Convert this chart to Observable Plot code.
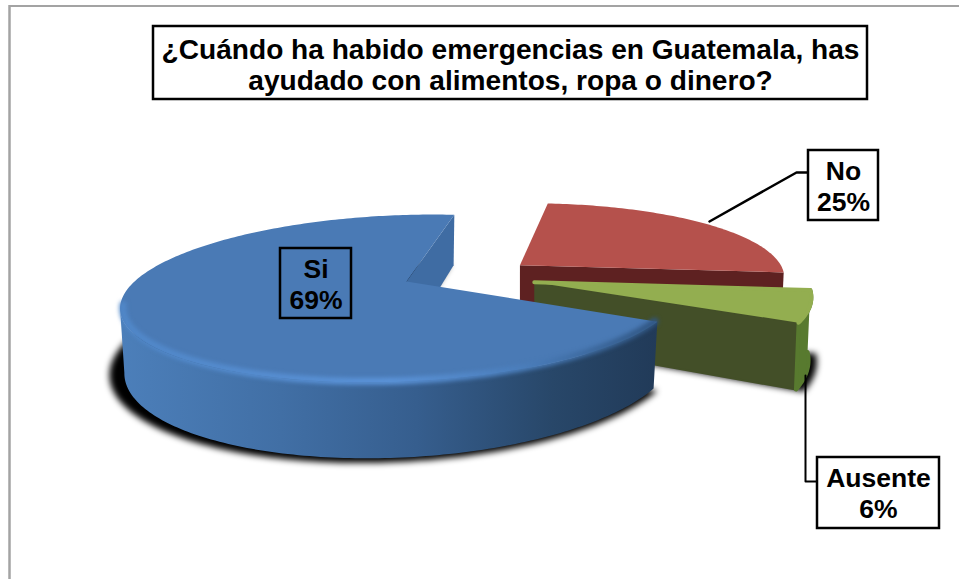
<!DOCTYPE html>
<html><head><meta charset="utf-8">
<script src="https://cdn.jsdelivr.net/npm/d3@7"></script>
<script src="https://cdn.jsdelivr.net/npm/@observablehq/plot@0.6"></script>
<style>html,body{margin:0;padding:0;background:#fff}svg{display:block}</style>
</head><body><div id="chart"></div>
<script>
const categories = ["Si", "No", "Ausente"];
const shares = [69, 25, 6];
const titleText = "¿Cuándo ha habido emergencias en Guatemala, has\nayudado con alimentos, ropa o dinero?";

// view of the tilted disc: world unit circle -> picture
const view = {x0: 406, y0: 281, R: 272, S: 80.5, p: 0.202, skew: -32, depth: 60.6};
const startAngle = 117;            // clockwise from the top, where the first slice starts
const explode = [[0, 0], [0.41, -0.21], [0.47, 0.01]];
const shrink = [0.985, 0.99, 0.99];

function project(X, Y) {
  const w = 1 - view.p * Y;
  return {x: view.x0 + (view.R * X + view.skew * Y) / w, y: view.y0 + view.S * Y / w, w};
}
const total = d3.sum(shares);
const bounds = [];
{ let a = startAngle;
  shares.forEach(s => { bounds.push([a, a + s / total * 360]); a += s / total * 360; }); }

const apex = i => project(explode[i][0], explode[i][1]);
// h = 0: top of the slab, h = 1: bottom of the slab; grow scales about the slice's apex
function at(i, deg, radius, h = 0, grow = 1) {
  const t = deg * Math.PI / 180, c = apex(i);
  const p = project(explode[i][0] + radius * Math.sin(t), explode[i][1] - radius * Math.cos(t));
  const k = (h ? shrink[i] : 1) * grow;
  return {x: c.x + (p.x - c.x) * k, y: c.y + (p.y - c.y) * grow + (h ? view.depth * h / p.w : 0)};
}
function arc(i, h = 0, grow = 1, from = bounds[i][0], to = bounds[i][1]) {
  const n = Math.max(4, Math.round(Math.abs(to - from)));
  return d3.range(n + 1).map(j => at(i, from + (to - from) * j / n, 1, h, grow));
}
const topFace = i => [at(i, 0, 0), ...arc(i)];
const bottomFace = (i, grow = 1) => [at(i, 0, 0, 1, grow), ...arc(i, 1, grow)];
const outerWall = (i, from, to) => [...arc(i, 0, 1, from, to), ...arc(i, 1, 1, from, to).reverse()];
const radialWall = (i, angle) => [at(i, 0, 0), at(i, angle, 1), at(i, angle, 1, 1), at(i, 0, 0, 1)];
const poly = (pts, o) => Plot.line(pts, {x: "x", y: "y", stroke: "none", ...o});

const [b0, b1] = bounds[0], [r0, r1] = bounds[1], [g0, g1] = bounds[2];
// the blue wall ends where the top rim turns back: its leftmost point
const blueArc = d3.range(b0, b1);
const silhouette = d3.least(blueArc, d => at(0, d, 1).x);

const shadowBlue = bottomFace(0, 1.035).map(d => ({x: d.x - 5, y: d.y + 1}));
const shadowGreen = bottomFace(2, 1.03).map(d => ({x: d.x, y: d.y + 1}));

const frame = (x1, x2, y1, y2, fill = "white") => Plot.rect([0], {x1: () => x1, x2: () => x2, y1: () => y1, y2: () => y2,
  fill, stroke: "black", strokeWidth: 2.5});
const label = i => `${categories[i]}\n${shares[i]}%`;
const text = (s, x, y, size, lh) => Plot.text([s], {x: () => x, y: () => y, text: d => d, fontSize: size,
  fontWeight: "bold", lineHeight: lh, fill: "black", textAnchor: "middle", lineAnchor: "middle"});

const chart = Plot.plot({
  width: 959, height: 579,
  marginTop: 0, marginRight: 0, marginBottom: 0, marginLeft: 0,
  x: {domain: [0, 959], range: [0, 959], axis: null},
  y: {domain: [0, 579], range: [0, 579], axis: null},
  style: {fontFamily: "'Liberation Sans', Arial, sans-serif", background: "#fff", overflow: "visible"},
  marks: [
    Plot.ruleX([9], {y1: 5, y2: 579, stroke: "#a3a3a3", strokeWidth: 2.5}),
    Plot.ruleY([5.5], {x1: 9, x2: 959, stroke: "#a3a3a3", strokeWidth: 2}),

    // No
    poly(radialWall(1, r1), {fill: "#5e2121"}),
    poly(topFace(1), {fill: "#b5514c"}),

    // Ausente
    poly(shadowGreen, {fill: "#000", imageFilter: "blur(3px)"}),
    poly(radialWall(2, g1), {fill: "#434f28", stroke: "#434f28", strokeWidth: 2, strokeLinejoin: "round"}),
    poly(outerWall(2, g0, g1), {fill: "#587a2f", stroke: "#587a2f", strokeWidth: 4, strokeLinejoin: "round"}),
    poly(topFace(2), {fill: "#93ae50", stroke: "#93ae50", strokeWidth: 4, strokeLinejoin: "round"}),

    // Si
    poly(shadowBlue, {fill: "#000", imageFilter: "blur(3px)"}),
    poly(radialWall(0, b1), {fill: "#3f6ca3"}),
    poly(outerWall(0, b0, silhouette), {fill: "url(#wallBlue)"}),
    poly(topFace(0), {fill: "#4a7ab5"}),
    Plot.line(arc(0, 0, 0.99, b0, silhouette + 2), {x: "x", y: "y", stroke: "url(#rimBlue)", strokeWidth: 7, imageFilter: "blur(2px)"}),

    // leaders
    Plot.line([{x: 709, y: 221}, {x: 796, y: 172}, {x: 808, y: 172}], {x: "x", y: "y", stroke: "black", strokeWidth: 2.5}),
    Plot.line([{x: 805, y: 375}, {x: 805, y: 481}, {x: 817, y: 481}], {x: "x", y: "y", stroke: "black", strokeWidth: 2}),

    // boxes
    frame(153, 867, 26, 99),
    text(titleText, 510, 64.5, 28.1, 1.1),
    frame(280, 351, 248, 318, "none"),
    text(label(0), 315.5, 283, 26.5, 1.17),
    frame(808, 878, 150, 220),
    text(label(1), 843, 185, 26.5, 1.17),
    frame(817, 939, 457, 528),
    text(label(2), 878, 492, 26.5, 1.17)
  ]
});
const defs = d3.select(chart).append("defs");
const grad = (id, x1, x2, stops) => {
  const g = defs.append("linearGradient").attr("id", id).attr("gradientUnits", "userSpaceOnUse")
    .attr("x1", x1).attr("x2", x2).attr("y1", 0).attr("y2", 0);
  stops.forEach(([o, c]) => g.append("stop").attr("offset", o).attr("stop-color", c));
};
grad("wallBlue", 118, 660, [[0, "#4c7fba"], [0.3, "#416fa5"], [0.55, "#365e8e"], [0.8, "#284769"], [1, "#213a58"]]);
grad("rimBlue", 118, 660, [[0, "#5087c8"], [0.5, "#5b93d8"], [0.75, "#4a7dba"], [1, "#2f5480"]]);
document.getElementById("chart").append(chart);
</script></body></html>
